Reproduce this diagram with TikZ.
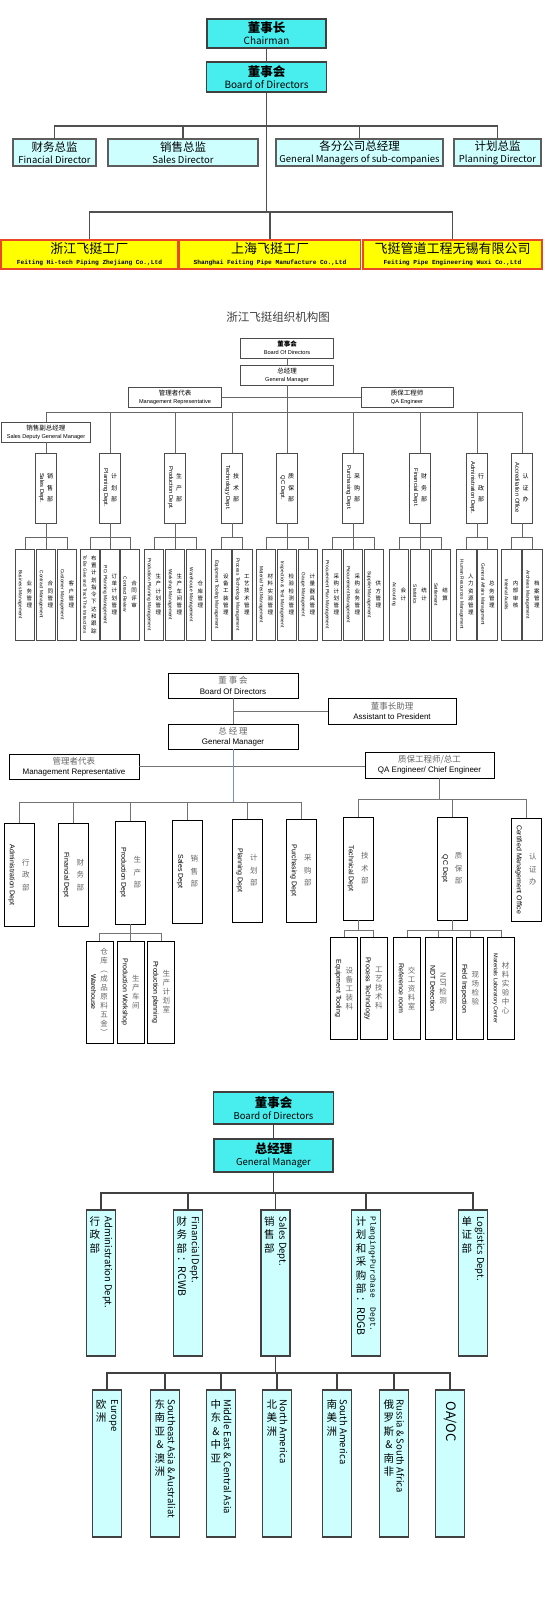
\documentclass[tikz,border=0pt]{standalone}
\usepackage{fontspec}
\usepackage{graphicx}
\setmainfont{Liberation Sans}
\setmonofont{Liberation Mono}
\newfontfamily\cjk{Noto Sans CJK SC}
\usetikzlibrary{calc}

\definecolor{topcyan}{RGB}{72,238,238}
\definecolor{palecyan}{RGB}{206,255,255}
\definecolor{boxgrey}{RGB}{64,64,64}
\definecolor{linegrey}{RGB}{80,80,80}
\definecolor{facred}{RGB}{232,72,40}
\definecolor{facyellow}{RGB}{255,255,0}
\definecolor{trunkblue}{RGB}{112,146,204}

% vertical labels: stacked CJK characters beside rotated English
\def\efont{}
\def\cfont{\cjk}
\def\vtgap{2pt}
\newcommand\cstackX[1]{\ifx\relax#1\else\hbox to 1em{\hss#1\hss}\expandafter\cstackX\fi}
\newcommand\cstack[1]{\vbox{\expandafter\cstackX#1\relax}}
\newcommand\vt[2]{$\vcenter{\hbox{\efont\rotatebox{-90}{#1}}}\hspace{\vtgap}\vcenter{\cfont\cstack{#2}}$}
\newcommand\vtt[2]{\hbox{\vtop{\vskip0pt\cfont\cstack{#1}}\hspace{\vtgap}\vtop{\vskip0pt\hbox{\efont\rotatebox{-90}{#2}}}}}
\newcommand\zh[2]{{\cjk\fontsize{#1}{#1}\selectfont #2}}
\newcommand\facen[1]{{\ttfamily\bfseries\fontsize{6.2}{7}\selectfont #1}}
\newcommand\ndt{\rotatebox{-90}{NDT}}
\newcommand\rcwb{\raisebox{0.9em}{\rotatebox{-90}{：RCWB}}}
\newcommand\rdgb{\raisebox{0.9em}{\rotatebox{-90}{：RDGB}}}

\begin{document}
\begin{tikzpicture}[x=1pt,y=-1pt,
  every node/.style={inner sep=0pt},
  % group chart
  c1top/.style={draw=boxgrey, line width=1.4pt, fill=topcyan, align=center,
    font=\cjk\fontsize{10}{12}\selectfont},
  c1dir/.style={draw=boxgrey!85, line width=1.2pt, fill=palecyan, minimum height=27pt,
    align=center, font=\cjk\fontsize{9.5}{12}\selectfont},
  c1fac/.style={draw=facred, line width=1.4pt, fill=facyellow, minimum height=29pt,
    align=center, font=\cjk\fontsize{13}{13}\selectfont},
  c1line/.style={draw=linegrey, line width=1.2pt},
  % Zhejiang chart
  box2/.style={draw=black!70, line width=0.6pt},
  top2/.style={box2, minimum width=93pt, minimum height=20pt, align=center,
    font=\fontsize{5.6}{8}\selectfont},
  dept2/.style={box2, minimum width=21pt, minimum height=70pt,
    font={\def\efont{\fontsize{5.8}{7}\selectfont}%
      \def\cfont{\cjk\fontsize{6}{11.5}\selectfont}\def\vtgap{3pt}}},
  sub2/.style={box2, minimum width=19.5pt, minimum height=91pt,
    font={\def\efont{\fontsize{4.8}{6}\selectfont}%
      \def\cfont{\cjk\fontsize{5.5}{7.3}\selectfont}\def\vtgap{4.5pt}}},
  l2/.style={draw=black!60, line width=0.6pt},
  % company chart
  box3/.style={draw=black, line width=0.8pt},
  top3/.style={box3, minimum width=130pt, minimum height=25pt, align=center,
    font=\fontsize{8}{10.5}\selectfont},
  dept3/.style={box3, minimum width=30pt, minimum height=103pt,
    font={\def\efont{\fontsize{7}{8}\selectfont}%
      \def\cfont{\cjk\color{black!60}\fontsize{7.5}{12.5}\selectfont}\def\vtgap{7pt}}},
  sub3/.style={box3, minimum width=27pt, minimum height=102pt,
    font={\def\efont{\fontsize{7}{8}\selectfont}%
      \def\cfont{\cjk\color{black!60}\fontsize{7.5}{9}\selectfont}\def\vtgap{4pt}}},
  l3/.style={draw=black!55, line width=0.9pt},
  % sales chart
  top4/.style={draw=boxgrey, line width=1.3pt, fill=topcyan, align=center,
    font=\cjk\fontsize{9.5}{12}\selectfont},
  dept4/.style={draw=boxgrey, line width=1.3pt, fill=palecyan, minimum width=29pt,
    minimum height=146pt},
  text4/.style={anchor=north,
    font={\def\efont{\cjk\fontsize{9.5}{11}\selectfont}%
      \def\cfont{\cjk\fontsize{10.5}{13.5}\selectfont}\def\vtgap{2.5pt}}},
  l4/.style={draw=boxgrey, line width=1.2pt}]

  \path[fill=white] (0,0) rectangle (544,1599);
  \useasboundingbox (0,0) rectangle (544,1599);

  % ---------------- group chart
  \node[c1top, minimum width=119pt, minimum height=29pt] (chair) at (266.5,33.5)
    {\zh{12.5}{\bfseries 董事长}\\Chairman};
  \node[c1top, minimum width=120pt, minimum height=30pt] (bod1) at (266.5,77)
    {\zh{12.5}{\bfseries 董事会}\\Board of Directors};

  \node[c1dir, minimum width=83pt] (fin1) at (54.5,152.5) {\zh{11.5}{财务总监}\\Finacial Director};
  \node[c1dir, minimum width=150pt] (sal1) at (183,152.5) {\zh{11.5}{销售总监}\\Sales Director};
  \node[c1dir, minimum width=167pt] (gms1) at (359.5,152.5)
    {\zh{11.5}{各分公司总经理}\\General Managers of sub-companies};
  \node[c1dir, minimum width=87pt] (pln1) at (497.5,152.5) {\zh{11.5}{计划总监}\\Planning Director};

  \node[c1fac, minimum width=177pt] (zj1) at (89.5,254.5)
    {浙江飞挺工厂\\[-2pt]\facen{Feiting Hi-tech Piping Zhejiang Co.,Ltd}};
  \node[c1fac, minimum width=181pt] (sh1) at (270,254.5)
    {上海飞挺工厂\\[-2pt]\facen{Shanghai Feiting Pipe Manufacture Co.,Ltd}};
  \node[c1fac, minimum width=179pt] (wx1) at (452.5,254.5)
    {飞挺管道工程无锡有限公司\\[-2pt]\facen{Feiting Pipe Engineering Wuxi Co.,Ltd}};

  \coordinate (dbus1) at (266.5,126);
  \coordinate (fbus1) at (266.5,212);
  \draw[c1line] (chair) -- (bod1);
  \draw[c1line] (bod1) -- (fbus1);
  \foreach \n in {fin1,sal1,gms1,pln1}
    \draw[c1line] (\n.north) |- (dbus1);
  \foreach \n in {zj1,sh1,wx1}
    \draw[c1line] (\n.north) |- (fbus1);

  % ---------------- Zhejiang chart
  \node[font=\cjk\fontsize{11.5}{13}\selectfont, text=black!75] (title2) at (278,317)
    {浙江飞挺组织机构图};
  \node[top2] (bod2) at (287,348) {\zh{6.5}{\bfseries 董事会}\\Board Of Directors};
  \node[top2] (gm2) at (287,375) {\zh{6.5}{总经理}\\General Manager};
  \node[top2] (mr2) at (175,397) {\zh{6.5}{管理者代表}\\Management Representative};
  \node[top2, minimum width=92pt] (qa2) at (407,397.5) {\zh{6.5}{质保工程师}\\QA Engineer};
  \node[top2, minimum width=89pt] (sd2) at (46,432) {\zh{6.5}{销售副总经理}\\Sales Deputy General Manager};

  \coordinate (b2) at (287,412);
  \draw[l2] (bod2) -- (gm2);
  \draw[l2] (gm2) -- (b2);
  \draw[l2] (mr2.east) -- (qa2.west |- mr2.east);
  \draw[l2] (sd2.north) |- (b2);

  \foreach \n/\x/\en/\cn in {sal2/46/Sales Dept./销售部, pla2/110/Planning Dept./计划部,
      pro2/175/Production Dept./生产部, tec2/232/Technology Dept./技术部,
      qcd2/287/QC Dept./质保部, pur2/353/Purchasing Dept./采购部,
      fin2/420/Financial Dept./财务部, adm2/477/Administration Dept./行政部,
      acc2/522/Accreditation Office/认证办}
  {
    \node[dept2] (\n) at (\x,488) {\vt{\en}{\cn}};
    \coordinate (j\n) at (\x,537);
    \draw[l2] (\n) -- (j\n);
  }
  \draw[l2] (sd2) -- (sal2);
  \foreach \n in {pla2,pro2,tec2,qcd2,pur2,fin2,adm2,acc2}
    \draw[l2] (\n.north) |- (b2);

  \foreach \n/\p/\k/\en/\cn in {
      sal2/a/-21/Business Management/业务管理,
      sal2/b/0/Contract Management/合同管理,
      sal2/c/21/Customer Management/客户管理,
      pla2/a/-20/{\fontsize{4.6}{5}\selectfont To Be Give and Track The Instructions}/布置计划指令下达和跟踪,
      pla2/b/0/P.O. Planning Management/订单计划管理,
      pla2/c/20/Contract Review/合同评审,
      pro2/a/-21/Production Planning Management/生产计划管理,
      pro2/b/0/Workshop Management/生产车间管理,
      pro2/c/21/Warehouse Management/仓库管理,
      tec2/a/-10.5/Equipment Tooling Management/设备工装管理,
      tec2/b/10.5/Process Technology Management/工艺技术管理,
      qcd2/a/-21/Material Test Management/材料实验管理,
      qcd2/b/0/Inspection \& Test Management/检验检测管理,
      qcd2/c/21/Gauge Management/计量器具管理,
      pur2/a/-21/Procurement Plan Management/采购计划管理,
      pur2/b/0/Procurement Management/采购业务管理,
      pur2/c/21/Supplier Management/供方管理,
      fin2/a/-21/Accounting/会计,
      fin2/b/0/Statistics/统计,
      fin2/c/21/Settlement/结算,
      adm2/a/-10.5/Human Resources Management/人力资源管理,
      adm2/b/10.5/General Affairs Management/总务管理,
      acc2/a/-10.5/Internal Audits/内部审核,
      acc2/b/10.5/Archives Management/档案管理}
  {
    \node[sub2] (\n\p) at ($(j\n)+(\k,57.5)$) {\vt{\en}{\cn}};
    \draw[l2] (\n\p.north) |- (j\n);
  }

  % ---------------- company chart
  \node[top3] (bod3) at (233,685.5) {\zh{8.5}{\color{black!60}董 事 会}\\Board Of Directors};
  \node[top3, minimum width=128pt, minimum height=26pt] (ast3) at (392,711)
    {\zh{8.5}{\color{black!60}董事长助理}\\Assistant to President};
  \node[top3] (gm3) at (233,736.5) {\zh{8.5}{\color{black!60}总 经 理}\\General Manager};
  \node[top3] (mr3) at (74,766.5) {\zh{8.5}{\color{black!60}管理者代表}\\Management Representative};
  \node[top3, minimum width=129pt, minimum height=26pt] (qa3) at (429.5,765)
    {\zh{8.5}{\color{black!60}质保工程师/总工}\\QA Engineer/ Chief Engineer};

  \coordinate (a3) at (233,711);
  \coordinate (lb3) at (233,802);
  \coordinate (rb3) at (439,799);
  \draw[l3] (bod3) -- (gm3);
  \draw[l3] (a3) -- (ast3.west);
  \draw[l3] (mr3.east) -- (qa3.west |- mr3.east);
  \draw[l3] (qa3.south -| rb3) -- (rb3);
  \draw[trunkblue, line width=1pt] (gm3) -- (lb3);

  \foreach \n/\x/\y/\en/\cn in {adm3/19/875/Administration Dept/行政部,
      fin3/73.5/875/Financial Dept/财务部, pro3/130.5/872.5/Production Dept/生产部,
      sal3/187.5/871.5/Sales Dept/销售部, pla3/247/870.5/Planning Dept/计划部,
      pur3/301/870.5/Purchasing Dept/采购部}
  {
    \node[dept3] (\n) at (\x,\y) {\vt{\en}{\cn}};
    \draw[l3] (\n.north) |- (lb3);
  }
  \foreach \n/\x/\y/\en/\cn in {tec3/358/868.5/Technical Dept/技术部,
      qcd3/452/868.5/QC Dept/质保部, crt3/526/869.5/Certified Management Office/认证办}
  {
    \node[dept3] (\n) at (\x,\y) {\vt{\en}{\cn}};
    \draw[l3] (\n.north) |- (rb3);
  }

  \coordinate (jpro3) at (130.5,933);
  \coordinate (jtec3) at (358,930);
  \coordinate (jqcd3) at (452,930);
  \foreach \n in {pro3,tec3,qcd3}
    \draw[l3] (\n) -- (j\n);
  \foreach \n/\p/\x/\y/\en/\cn in {
      pro3/a/99.5/992/Warehouse/仓库︵成品原料五金︶,
      pro3/b/130.5/992/Production Workshop/生产车间,
      pro3/c/161/992/Production planning/生产计划室,
      tec3/a/344/988.5/Equipment Tooling/设备工装科,
      tec3/b/373.5/988.5/Process Technology/工艺技术科,
      qcd3/a/407/988.5/Reference room/交工资料室,
      qcd3/b/438.5/988.5/NDT Detection/\ndt 检测,
      qcd3/c/470/988.5/Field Inspection/现场检验,
      qcd3/d/501/988.5/{\fontsize{5.6}{6}\selectfont Materials Laboratory Center}/材料实验中心}
  {
    \node[sub3] (\n\p) at (\x,\y) {\vt{\en}{\cn}};
    \draw[l3] (\n\p.north) |- (j\n);
  }

  % ---------------- sales chart
  \node[top4, minimum width=120pt, minimum height=32pt] (bod4) at (273.5,1108)
    {\zh{12.5}{\bfseries 董事会}\\Board of Directors};
  \node[top4, minimum width=119pt, minimum height=33pt] (gm4) at (273.5,1155.5)
    {\zh{12.5}{\bfseries 总经理}\\General Manager};

  \coordinate (b4) at (273.5,1193);
  \coordinate (r4) at (275.5,1373);
  \draw[l4] (bod4) -- (gm4);
  \draw[l4] (gm4) -- (b4);

  \foreach \n/\x/\cn/\en in {adm4/101/行政部/Administration Dept.,
      fin4/188/财务部\rcwb/Financial Dept.,
      sal4/275.5/销售部/Sales Dept.,
      pla4/366/计划和采购部\rdgb/{\ttfamily\fontsize{8}{9}\selectfont Planging+Purchase\ \ Dept.},
      log4/473/单证部/Logistics Dept.}
  {
    \node[dept4] (\n) at (\x,1283) {};
    \node[text4] (t\n) at ([yshift=-7pt]\n.north) {\vtt{\cn}{\en}};
    \draw[l4] (\n.north) |- (b4);
  }
  \draw[l4] (sal4) -- (r4);

  \foreach \n/\x/\cn/\en in {eu4/107/欧洲/Europe,
      sea4/165/东南亚\&澳洲/Southeast Asia \& Australiat,
      me4/221/中东\&中亚/Middle East \& Central Asia,
      na4/277/北美洲/North America,
      sa4/337/南美洲/South America,
      ru4/394/俄罗斯\&南非/Russia \& South Africa}
  {
    \node[dept4, minimum height=147pt] (\n) at (\x,1463.5) {};
    \node[text4] (t\n) at ([yshift=-10pt]\n.north) {\vtt{\cn}{\en}};
    \draw[l4] (\n.north) |- (r4);
  }
  \node[dept4, minimum height=147pt] (oa4) at (450,1463.5) {};
  \node[anchor=west, rotate=-90, font=\cjk\fontsize{13}{15}\selectfont] (toa4)
    at ([yshift=-12pt]oa4.north) {OA/OC};
  \draw[l4] (oa4.north) |- (r4);
\end{tikzpicture}
\end{document}
